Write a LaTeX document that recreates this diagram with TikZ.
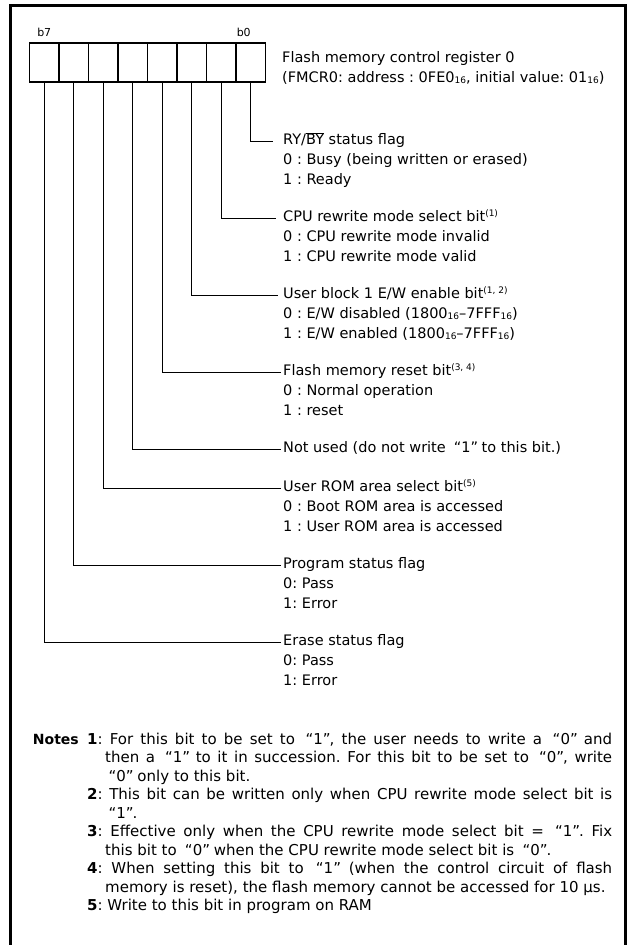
\documentclass[tikz,border=0pt]{standalone}
\usepackage{fontspec}
\setmainfont{DejaVu Sans}
\usepackage{tikz}
\usetikzlibrary{positioning}
\newcommand\qt[1]{\makebox[0.75em][r]{“}#1\makebox[0.45em][l]{”}}
\newcommand\hx[1]{\raisebox{-1pt}{\fontsize{9}{9}\selectfont #1}}
\newcommand\nt[1]{\raisebox{5.5pt}{\fontsize{9}{9}\selectfont(#1)}}
\newcommand\tp{\rule{0pt}{11.5pt}}
\frenchspacing
\tikzset{
  cell/.style={draw, line width=1.3pt, minimum width=29.5pt, minimum height=39pt,
    inner sep=0pt, outer sep=0pt},
  bitlbl/.style={font=\fontsize{11}{11}\selectfont, inner sep=0pt},
  fld/.style={anchor=west, inner sep=2pt, text height=10.5pt, text depth=3pt,
    font=\fontsize{14.5}{19.5}\selectfont},
  vals/.style={align=left, inner sep=2pt, font=\fontsize{14.5}{19.5}\selectfont},
  wire/.style={line width=1pt},
  frame/.style={line width=3pt},
  notes/.style={text width=525pt, align=justify, inner sep=0pt,
    font=\fontsize{15}{18.5}\selectfont},
  nhd/.style={inner sep=0pt, font=\fontsize{14}{18.5}\selectfont\bfseries},
}

\begin{document}
\begin{tikzpicture}[x=1pt, y=-1pt]
  \useasboundingbox (0,0) rectangle (632,945);
  \draw[frame] (10,945) |- (625,5) -- (625,945);
  % register cells b7 .. b0
  \node[cell, anchor=north west] (c7) at (29.5,43) {};
  \node[cell, right=0pt of c7] (c6) {};
  \node[cell, right=0pt of c6] (c5) {};
  \node[cell, right=0pt of c5] (c4) {};
  \node[cell, right=0pt of c4] (c3) {};
  \node[cell, right=0pt of c3] (c2) {};
  \node[cell, right=0pt of c2] (c1) {};
  \node[cell, right=0pt of c1] (c0) {};
  \node[bitlbl, above=6pt of c7] (b7) {b7};
  \node[bitlbl, above=6pt of c0, xshift=-7pt] (b0) {b0};
  \node[vals, anchor=west] (regname) at (280,68) {Flash memory control register 0\\(FMCR0: address : 0FE0\hx{16}, initial value: 01\hx{16})};
  % bit fields
  \node[fld] (f0) at (281,141) {RY/$\overline{\mbox{BY}}$ status flag};
  \node[vals, below=1pt of f0.south west, anchor=north west] (v0) {\tp0 : Busy (being written or erased)\\1 : Ready};
  \node[fld] (f1) at (281,218) {CPU rewrite mode select bit\nt{1}};
  \node[vals, below=1pt of f1.south west, anchor=north west] (v1) {\tp0 : CPU rewrite mode invalid\\1 : CPU rewrite mode valid};
  \node[fld] (f2) at (281,295) {User block 1 E/W enable bit\nt{1, 2}};
  \node[vals, below=1pt of f2.south west, anchor=north west] (v2) {\tp0 : E/W disabled (1800\hx{16}--7FFF\hx{16})\\1 : E/W enabled (1800\hx{16}--7FFF\hx{16})};
  \node[fld] (f3) at (281,372) {Flash memory reset bit\nt{3, 4}};
  \node[vals, below=1pt of f3.south west, anchor=north west] (v3) {\tp0 : Normal operation\\1 : reset};
  \node[fld] (f4) at (281,449) {Not used (do not write \qt{1} to this bit.)};
  \node[fld] (f5) at (281,488) {User ROM area select bit\nt{5}};
  \node[vals, below=1pt of f5.south west, anchor=north west] (v5) {\tp0 : Boot ROM area is accessed\\1 : User ROM area is accessed};
  \node[fld] (f6) at (281,565) {Program status flag};
  \node[vals, below=1pt of f6.south west, anchor=north west] (v6) {\tp0: Pass\\1: Error};
  \node[fld] (f7) at (281,642) {Erase status flag};
  \node[vals, below=1pt of f7.south west, anchor=north west] (v7) {\tp0: Pass\\1: Error};
  \draw[wire] (c0.south) |- ([xshift=-8pt]f0.west);
  \draw[wire] (c1.south) |- ([xshift=-5pt]f1.west);
  \draw[wire] (c2.south) |- ([xshift=-3pt]f2.west);
  \draw[wire] (c3.south) |- (f3.west);
  \draw[wire] (c4.south) |- (f4.west);
  \draw[wire] (c5.south) |- (f5.west);
  \draw[wire] (c6.south) |- (f6.west);
  \draw[wire] (c7.south) |- (f7.west);
  % notes
  \node[notes, anchor=north west] (notetxt) at (87,732.5) {%
    \hyphenpenalty=10000
    \hangindent=18pt\hangafter=1\tp\textbf{1}: For this bit to be set to \qt{1}, the user needs to write a \qt{0} and\linebreak then a \qt{1} to it in succession. For this bit to be set to \qt{0}, write\linebreak \qt{0} only to this bit.\par
    \hangindent=18pt\hangafter=1\textbf{2}: This bit can be written only when CPU rewrite mode select bit is\linebreak \qt{1}.\par
    \hangindent=18pt\hangafter=1\textbf{3}: Effective only when the CPU rewrite mode select bit = \qt{1}. Fix\linebreak this bit to \qt{0} when the CPU rewrite mode select bit is \qt{0}.\par
    \hangindent=18pt\hangafter=1\textbf{4}: When setting this bit to \qt{1} (when the control circuit of flash\linebreak memory is reset), the flash memory cannot be accessed for 10 μs.\par
    \hangindent=18pt\hangafter=1\textbf{5}: Write to this bit in program on RAM\par};
  \node[nhd, left=8pt of notetxt.north west, anchor=north east] (nhead) {\tp Notes};
\end{tikzpicture}
\end{document}
